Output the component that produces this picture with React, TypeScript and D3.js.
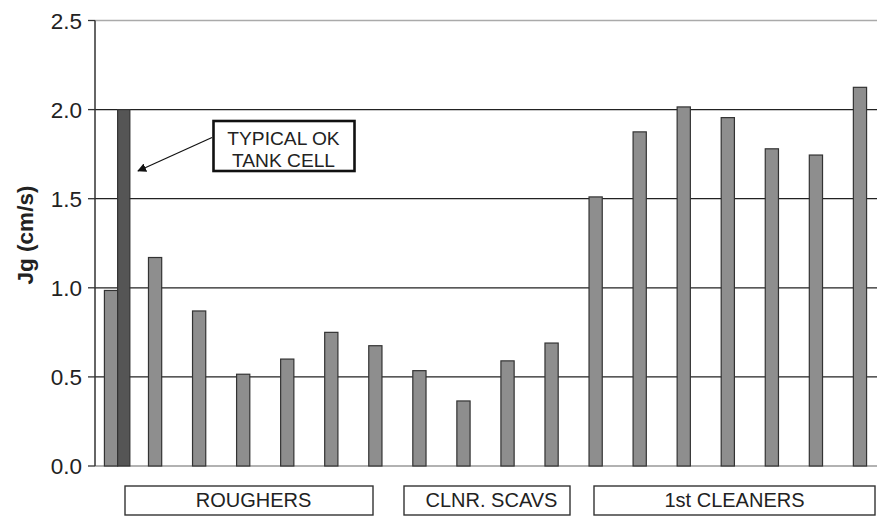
import React from "react";
import * as d3 from "d3";

const categories = ["R1","R2","R3","R4","R5","R6","R7","CS1","CS2","CS3","CS4","C1","C2","C3","C4","C5","C6","C7"];
const jgValues = [0.985, 1.17, 0.87, 0.515, 0.6, 0.75, 0.675, 0.535, 0.365, 0.59, 0.69, 1.51, 1.875, 2.015, 1.955, 1.78, 1.745, 2.125];
const typicalCategory = "R1";
const typicalValue = 2.0;
const yTicks = [0, 0.5, 1.0, 1.5, 2.0, 2.5];
const groups = [
  { label: "ROUGHERS", first: "R1", last: "R7" },
  { label: "CLNR. SCAVS", first: "CS1", last: "CS4" },
  { label: "1st CLEANERS", first: "C1", last: "C7" },
];
const yTitle = "Jg (cm/s)";
const noteLines = ["TYPICAL OK", "TANK CELL"];

const W = 877, H = 516;
const left = 95, right = 877, top = 20.5, bottom = 466;

export default function App() {
  const x = d3.scaleBand<string>().domain(categories).range([89, 882]).paddingInner(0.7).paddingOuter(0.35);
  const y = d3.scaleLinear().domain([0, 2.5]).range([bottom, top]);
  const bw = x.bandwidth();
  const font = "Liberation Sans, Arial, sans-serif";

  const groupBoxes = [
    { label: groups[0].label, x0: 125, x1: 373, dx: 4.5 },
    { label: groups[1].label, x0: 404, x1: 570, dx: 4.5 },
    { label: groups[2].label, x0: 594, x1: 875, dx: 0 },
  ];

  return (
    <svg width={W} height={H} style={{ position: "absolute", left: 0, top: 0, background: "#fff" }} fontFamily={font}>
      <defs>
        <marker id="arr" viewBox="0 0 10 10" refX="9" refY="5" markerWidth="9" markerHeight="9" orient="auto" markerUnits="userSpaceOnUse">
          <path d="M0,0 L10,5 L0,10 z" fill="#111" />
        </marker>
      </defs>
      {yTicks.map((t) => (
        <line key={t} x1={left} x2={right} y1={y(t)} y2={y(t)}
          stroke={t === 2.5 ? "#aaa" : t === 0 ? "#999" : "#222"} strokeWidth={t === 2.5 || t === 0 ? 1.5 : 1.3} />
      ))}
      <line x1={left} x2={left} y1={top} y2={bottom} stroke="#333" strokeWidth={1.5} />
      {yTicks.map((t) => (
        <g key={"t" + t}>
          <line x1={88} x2={left} y1={y(t)} y2={y(t)} stroke="#333" strokeWidth={1.3} />
          <text x={82} y={y(t) + 8} textAnchor="end" fontSize={22.5} fill="#222">{t.toFixed(1)}</text>
        </g>
      ))}
      <text transform={`translate(32.5,235) rotate(-90)`} textAnchor="middle" fontSize={22.5} fontWeight="bold" fill="#222">{yTitle}</text>
      {categories.map((c, i) => (
        <rect key={c} x={x(c)!} y={y(jgValues[i])} width={bw} height={bottom - y(jgValues[i])}
          fill="#8e8e8e" stroke="#333" strokeWidth={1.2} />
      ))}
      <rect x={x(typicalCategory)! + bw} y={y(typicalValue)} width={bw - 1} height={bottom - y(typicalValue)}
        fill="#555" stroke="#333" strokeWidth={1.2} />
      <line x1={212} y1={137.5} x2={138} y2={171} stroke="#111" strokeWidth={1.2} markerEnd="url(#arr)" />
      <rect x={213.5} y={121} width={141} height={50} fill="#fff" stroke="#111" strokeWidth={2.6} />
      {noteLines.map((l, i) => (
        <text key={l} x={283.5} y={145 + i * 21.5} textAnchor="middle" fontSize={19.2} fill="#222">{l}</text>
      ))}
      {groupBoxes.map((g) => (
        <g key={g.label}>
          <rect x={g.x0} y={486} width={g.x1 - g.x0} height={29} fill="#fff" stroke="#333" strokeWidth={1.4} />
          <text x={(g.x0 + g.x1) / 2 + g.dx} y={507} textAnchor="middle" fontSize={20} fill="#222">{g.label}</text>
        </g>
      ))}
    </svg>
  );
}
